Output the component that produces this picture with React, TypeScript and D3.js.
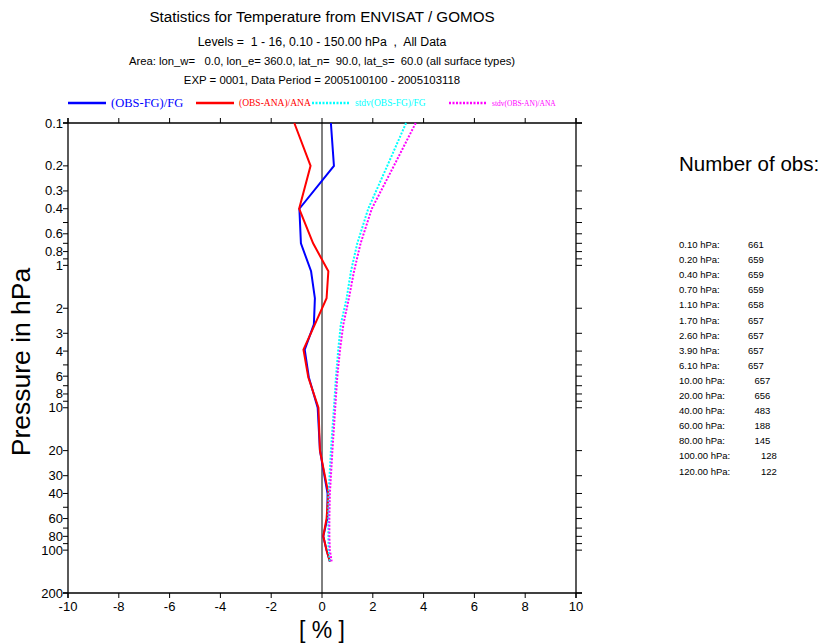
import React, { useEffect, useRef } from "react";
import * as d3 from "d3";

// pressure levels (hPa) of the profile points
const levels = [0.1, 0.2, 0.4, 0.7, 1.1, 1.7, 2.6, 3.9, 6.1, 10, 20, 40, 60, 80, 100, 120];
// values in %
const obsFg = [0.35, 0.47, -0.89, -0.83, -0.43, -0.28, -0.32, -0.68, -0.52, -0.17, -0.08, 0.22, 0.21, 0.05, 0.18, 0.31];
const obsAna = [-1.09, -0.45, -0.9, -0.35, 0.25, 0.18, -0.28, -0.73, -0.54, -0.14, -0.08, 0.25, 0.18, 0.05, 0.18, 0.31];
const stdvFg = [3.31, 2.57, 1.82, 1.39, 1.14, 0.97, 0.74, 0.64, 0.55, 0.47, 0.35, 0.26, 0.25, 0.25, 0.26, 0.31];
const stdvAna = [3.69, 2.83, 1.96, 1.52, 1.26, 1.06, 0.84, 0.71, 0.6, 0.52, 0.41, 0.31, 0.29, 0.29, 0.31, 0.38];

const obsLabels = ["0.10", "0.20", "0.40", "0.70", "1.10", "1.70", "2.60", "3.90", "6.10", "10.00", "20.00", "40.00", "60.00", "80.00", "100.00", "120.00"];
const obsCounts = [661, 659, 659, 659, 658, 657, 657, 657, 657, 657, 656, 483, 188, 145, 128, 122];

const xTicks = [-10, -8, -6, -4, -2, 0, 2, 4, 6, 8, 10];
const yTicks = [0.1, 0.2, 0.3, 0.4, 0.5, 0.6, 0.7, 0.8, 0.9, 1, 2, 3, 4, 5, 6, 7, 8, 9, 10, 20, 30, 40, 50, 60, 70, 80, 90, 100, 200];
const yLabelled = [0.1, 0.2, 0.3, 0.4, 0.6, 0.8, 1, 2, 3, 4, 6, 8, 10, 20, 30, 40, 60, 80, 100, 200];

const series = [
  { name: "(OBS-FG)/FG", values: obsFg, color: "#0000ff", dash: null, size: 12.5 },
  { name: "(OBS-ANA)/ANA", values: obsAna, color: "#ff0000", dash: null, size: 9.5 },
  { name: "stdv(OBS-FG)/FG", values: stdvFg, color: "#00ffff", dash: "2,1.5", size: 9.5 },
  { name: "stdv(OBS-AN)/ANA", values: stdvAna, color: "#ff00ff", dash: "2,1.5", size: 7.5 },
];

const sans = "'Liberation Sans', Arial, sans-serif";
const serif = "'Liberation Serif', 'Times New Roman', serif";

export default function App() {
  const ref = useRef<SVGSVGElement>(null);

  useEffect(() => {
    const svg = d3.select(ref.current);
    svg.selectAll("*").remove();
    const left = 68, right = 576, top = 123, bottom = 593;
    const x = d3.scaleLinear().domain([-10, 10]).range([left, right]);
    const y = d3.scaleLog().domain([0.1, 200]).range([top, bottom]);

    // titles
    const titles = [
      { t: "Statistics for Temperature from ENVISAT / GOMOS", y: 22, s: 15.2 },
      { t: "Levels =  1 - 16, 0.10 - 150.00 hPa  ,  All Data", y: 46, s: 12.3 },
      { t: "Area: lon_w=   0.0, lon_e= 360.0, lat_n=  90.0, lat_s=  60.0 (all surface types)", y: 65, s: 11.3 },
      { t: "EXP = 0001, Data Period = 2005100100 - 2005103118", y: 84, s: 11.4 },
    ];
    svg.selectAll("text.title").data(titles).enter().append("text")
      .attr("class", "title")
      .attr("x", 322).attr("y", d => d.y)
      .attr("text-anchor", "middle")
      .attr("font-family", sans).attr("font-size", d => d.s)
      .attr("xml:space", "preserve")
      .style("white-space", "pre")
      .text(d => d.t);

    // legend
    const legX = [68, 196, 312, 449];
    series.forEach((s, i) => {
      svg.append("line")
        .attr("x1", legX[i]).attr("x2", legX[i] + 38)
        .attr("y1", 103).attr("y2", 103)
        .attr("stroke", s.color).attr("stroke-width", 2.5)
        .attr("stroke-dasharray", s.dash);
      svg.append("text")
        .attr("x", legX[i] + 43).attr("y", 103 + s.size * 0.35)
        .attr("font-family", serif).attr("font-size", s.size)
        .attr("fill", s.color)
        .text(s.name);
    });

    const g = svg.append("g");
    // frame
    g.append("line").attr("x1", left - 5).attr("x2", right + 6).attr("y1", top).attr("y2", top);
    g.append("line").attr("x1", left - 5).attr("x2", right + 6).attr("y1", bottom).attr("y2", bottom);
    g.append("line").attr("x1", left).attr("x2", left).attr("y1", top - 5).attr("y2", bottom + 5);
    g.append("line").attr("x1", right).attr("x2", right).attr("y1", top - 5).attr("y2", bottom + 5);
    g.selectAll("line").attr("stroke", "#000").attr("stroke-width", 1.3);

    // x ticks (top and bottom)
    xTicks.forEach(v => {
      g.append("line").attr("x1", x(v)).attr("x2", x(v)).attr("y1", top - 5).attr("y2", top)
        .attr("stroke", "#000");
      g.append("line").attr("x1", x(v)).attr("x2", x(v)).attr("y1", bottom).attr("y2", bottom + 5)
        .attr("stroke", "#000");
      g.append("text").attr("x", x(v)).attr("y", 611)
        .attr("text-anchor", "middle").attr("font-family", sans).attr("font-size", 13)
        .text(String(v));
    });

    // y ticks (left and right)
    yTicks.forEach(v => {
      g.append("line").attr("x1", left - 5).attr("x2", left).attr("y1", y(v)).attr("y2", y(v))
        .attr("stroke", "#000");
      g.append("line").attr("x1", right).attr("x2", right + 6).attr("y1", y(v)).attr("y2", y(v))
        .attr("stroke", "#000");
    });
    yLabelled.forEach(v => {
      g.append("text").attr("x", left - 5).attr("y", y(v) + 4.5)
        .attr("text-anchor", "end").attr("font-family", sans).attr("font-size", 13)
        .text(String(v));
    });

    // zero line
    g.append("line").attr("x1", x(0)).attr("x2", x(0)).attr("y1", top).attr("y2", bottom)
      .attr("stroke", "#000").attr("stroke-width", 1);

    // profiles
    series.forEach(s => {
      const line = d3.line<number>()
        .x(d => x(d))
        .y((_, i) => y(levels[i]));
      g.append("path")
        .attr("d", line(s.values))
        .attr("fill", "none")
        .attr("stroke", s.color)
        .attr("stroke-width", 2)
        .attr("stroke-dasharray", s.dash);
    });

    // axis labels
    svg.append("text").attr("transform", "translate(30,362) rotate(-90)")
      .attr("text-anchor", "middle").attr("font-family", sans).attr("font-size", 26.5)
      .text("Pressure in hPa");
    svg.append("text").attr("x", 322).attr("y", 638)
      .attr("text-anchor", "middle").attr("font-family", sans).attr("font-size", 23)
      .attr("xml:space", "preserve").style("white-space", "pre")
      .text("[ % ]");

    // number of obs
    svg.append("text").attr("x", 679).attr("y", 171)
      .attr("font-family", sans).attr("font-size", 20.5)
      .text("Number of obs:");
    obsLabels.forEach((l, i) => {
      const yy = 248 + i * 15.1;
      const lab = l + " hPa:";
      svg.append("text").attr("x", 679).attr("y", yy)
        .attr("font-family", sans).attr("font-size", 9.5).text(lab);
      svg.append("text").attr("x", 748 + (lab.length - 9) * 6.5).attr("y", yy)
        .attr("font-family", sans).attr("font-size", 9.5).text(String(obsCounts[i]));
    });
  }, []);

  return <svg ref={ref} width={822} height={644} style={{ position: "absolute", left: 0, top: 0, background: "#fff" }} />;
}
